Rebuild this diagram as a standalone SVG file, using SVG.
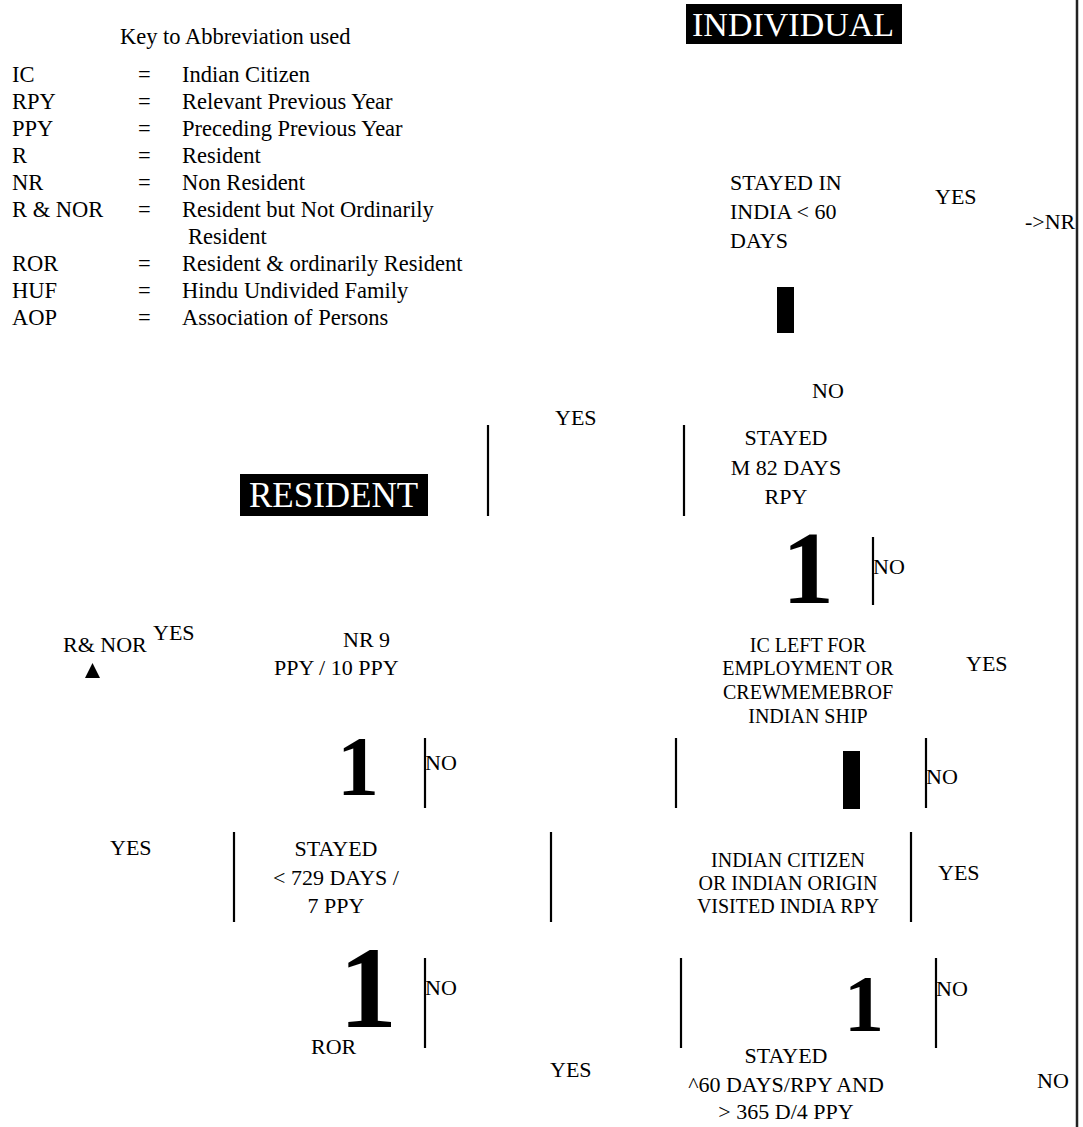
<svg xmlns="http://www.w3.org/2000/svg" width="1083" height="1127" viewBox="0 0 1083 1127" font-family="'Liberation Serif', 'Times New Roman', serif">
<style>
text{font-family:'Liberation Serif','Times New Roman',serif;fill:#000}
.k{font-size:22.5px}
.t{font-size:22px}
.s{font-size:20px}
.m{text-anchor:middle}
.big{font-weight:bold}
.hd{font-size:34px;fill:#fff}
.ln{stroke:#000;stroke-width:2.2;fill:none}
.blk{fill:#000}
</style>
<rect width="1083" height="1127" fill="#fff"/>
<g id="legend" class="k">
<text x="120" y="44">Key to Abbreviation used</text>
<text x="12" y="82">IC</text><text x="138" y="82">=</text><text x="182" y="82">Indian Citizen</text>
<text x="12" y="109">RPY</text><text x="138" y="109">=</text><text x="182" y="109">Relevant Previous Year</text>
<text x="12" y="136">PPY</text><text x="138" y="136">=</text><text x="182" y="136">Preceding Previous Year</text>
<text x="12" y="163">R</text><text x="138" y="163">=</text><text x="182" y="163">Resident</text>
<text x="12" y="190">NR</text><text x="138" y="190">=</text><text x="182" y="190">Non Resident</text>
<text x="12" y="217">R &amp; NOR</text><text x="138" y="217">=</text><text x="182" y="217">Resident but Not Ordinarily</text>
<text x="188" y="244">Resident</text>
<text x="12" y="271">ROR</text><text x="138" y="271">=</text><text x="182" y="271">Resident &amp; ordinarily Resident</text>
<text x="12" y="298">HUF</text><text x="138" y="298">=</text><text x="182" y="298">Hindu Undivided Family</text>
<text x="12" y="325">AOP</text><text x="138" y="325">=</text><text x="182" y="325">Association of Persons</text>
</g>
<g id="individual"><rect class="blk" x="686" y="4" width="216" height="40"/><text class="hd" x="692" y="36">INDIVIDUAL</text></g>
<g id="q-stayed-60" class="t"><text x="730" y="190">STAYED IN</text><text x="730" y="219">INDIA &lt; 60</text><text x="730" y="248">DAYS</text></g>
<g id="l-yes1" class="t"><text x="935" y="204">YES</text></g>
<g id="nr1" class="t"><text x="1025" y="229">-&gt;NR</text></g>
<g id="mark1"><rect class="blk" x="777" y="287" width="17" height="46"/></g>
<g id="l-no1" class="t"><text x="812" y="398">NO</text></g>
<g id="l-yes2" class="t"><text x="555" y="425">YES</text></g>
<g id="q-stayed-182" class="t m"><text x="786" y="445">STAYED</text><text x="786" y="475">M 82 DAYS</text><text x="786" y="504">RPY</text></g>
<g id="resident"><rect class="blk" x="240" y="474" width="188" height="42"/><text class="hd" x="249" y="507" font-size="35" style="font-size:35px">RESIDENT</text></g>
<g id="mark2"><text class="big m" x="808" y="603" font-size="104">1</text></g>
<g id="l-no2" class="t"><text x="873" y="574">NO</text></g>
<g id="rnor" class="t"><text x="63" y="652">R&amp; NOR</text><text x="153" y="640">YES</text><polygon class="blk" points="85,678 100,678 92.5,663"/></g>
<g id="q-nr9" class="t"><text x="343" y="647">NR 9</text><text x="274" y="675">PPY / 10 PPY</text></g>
<g id="q-ic-left" class="s m"><text x="808" y="652">IC LEFT FOR</text><text x="808" y="675">EMPLOYMENT OR</text><text x="808" y="699">CREWMEMEBROF</text><text x="808" y="723">INDIAN SHIP</text></g>
<g id="l-yes3" class="t"><text x="966" y="671">YES</text></g>
<g id="mark3"><text class="big m" x="358" y="795" font-size="84">1</text></g>
<g id="l-no3" class="t"><text x="425" y="770">NO</text></g>
<g id="mark4"><rect class="blk" x="843" y="751" width="17" height="58"/></g>
<g id="l-no4" class="t"><text x="926" y="784">NO</text></g>
<g id="l-yes4" class="t"><text x="110" y="855">YES</text></g>
<g id="q-stayed-729" class="t m"><text x="336" y="856">STAYED</text><text x="336" y="885">&lt; 729 DAYS /</text><text x="336" y="913">7 PPY</text></g>
<g id="q-citizen" class="s m"><text x="788" y="867">INDIAN CITIZEN</text><text x="788" y="890">OR INDIAN ORIGIN</text><text x="788" y="913">VISITED INDIA RPY</text></g>
<g id="l-yes5" class="t"><text x="938" y="880">YES</text></g>
<g id="mark5"><text class="big m" x="368" y="1027" font-size="116">1</text></g>
<g id="l-no5" class="t"><text x="425" y="995">NO</text></g>
<g id="ror" class="t"><text x="311" y="1054">ROR</text></g>
<g id="mark6"><text class="big m" x="864" y="1031" font-size="80">1</text></g>
<g id="l-no6" class="t"><text x="936" y="996">NO</text></g>
<g id="l-yes6" class="t"><text x="550" y="1077">YES</text></g>
<g id="q-stayed-365" class="t m"><text x="786" y="1063">STAYED</text><text x="786" y="1092">^60 DAYS/RPY AND</text><text x="786" y="1119">&gt; 365 D/4 PPY</text></g>
<g id="l-no7" class="t"><text x="1037" y="1088">NO</text></g>
<g id="connectors" class="ln">
<line x1="488" y1="425" x2="488" y2="516"/>
<line x1="684" y1="425" x2="684" y2="516"/>
<line x1="873" y1="537" x2="873" y2="605"/>
<line x1="425" y1="738" x2="425" y2="808"/>
<line x1="676" y1="738" x2="676" y2="808"/>
<line x1="926" y1="738" x2="926" y2="808"/>
<line x1="234" y1="832" x2="234" y2="922"/>
<line x1="551" y1="832" x2="551" y2="922"/>
<line x1="911" y1="832" x2="911" y2="922"/>
<line x1="425" y1="958" x2="425" y2="1048"/>
<line x1="681" y1="958" x2="681" y2="1048"/>
<line x1="936" y1="958" x2="936" y2="1048"/>
<line x1="1077" y1="0" x2="1077" y2="1127" stroke="#222" stroke-width="2.5"/>
</g>
</svg>
